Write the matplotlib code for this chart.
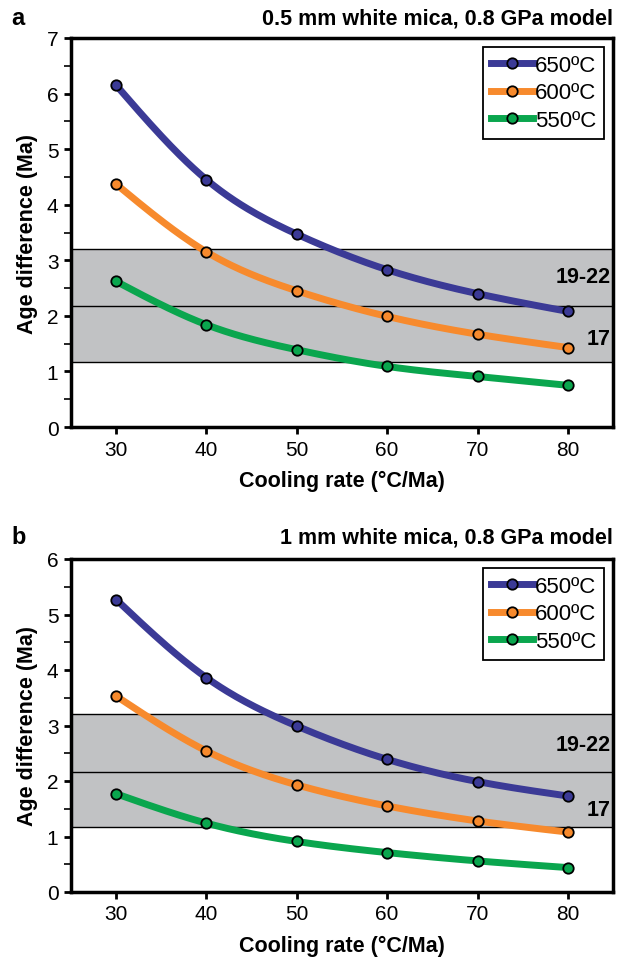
import numpy as np
import matplotlib
matplotlib.use("Agg")
import matplotlib.pyplot as plt

plt.rcParams['font.family'] = ['Liberation Sans', 'DejaVu Sans']

rates = [30, 40, 50, 60, 70, 80]
labels = ["650ºC", "600ºC", "550ºC"]
colors = ["#3b3a96", "#f78a2d", "#0aa64e"]

a_650 = [6.15, 4.45, 3.47, 2.83, 2.40, 2.08]
a_600 = [4.37, 3.15, 2.45, 1.99, 1.67, 1.43]
a_550 = [2.62, 1.84, 1.39, 1.09, 0.91, 0.75]

b_650 = [5.27, 3.86, 2.99, 2.39, 1.99, 1.73]
b_600 = [3.53, 2.54, 1.93, 1.55, 1.28, 1.08]
b_550 = [1.77, 1.24, 0.91, 0.71, 0.56, 0.44]

band_lines = [1.17, 2.17, 3.21]
band_labels = ["19-22", "17"]
titles = ["0.5 mm white mica, 0.8 GPa model", "1 mm white mica, 0.8 GPa model"]
letters = ["a", "b"]
ymaxes = [7, 6]


def natural_spline(x, y, n=200):
    x = np.asarray(x, float); y = np.asarray(y, float)
    k = len(x); h = np.diff(x)
    A = np.zeros((k, k)); r = np.zeros(k)
    A[0, 0] = 1; A[-1, -1] = 1
    for i in range(1, k - 1):
        A[i, i - 1] = h[i - 1]; A[i, i] = 2 * (h[i - 1] + h[i]); A[i, i + 1] = h[i]
        r[i] = 3 * ((y[i + 1] - y[i]) / h[i] - (y[i] - y[i - 1]) / h[i - 1])
    c = np.linalg.solve(A, r)
    xs = np.linspace(x[0], x[-1], n)
    ys = np.empty_like(xs)
    for j, xv in enumerate(xs):
        i = min(np.searchsorted(x, xv, side='right') - 1, k - 2)
        dx = xv - x[i]
        b = (y[i + 1] - y[i]) / h[i] - h[i] * (2 * c[i] + c[i + 1]) / 3
        d = (c[i + 1] - c[i]) / (3 * h[i])
        ys[j] = y[i] + b * dx + c[i] * dx ** 2 + d * dx ** 3
    return xs, ys


fig = plt.figure(figsize=(6.19, 9.62), dpi=100)
axa = fig.add_axes([71 / 619, 1 - 428 / 962, 542 / 619, 389 / 962])
axb = fig.add_axes([71 / 619, 1 - 893 / 962, 542 / 619, 333 / 962])

panels = [(axa, [a_650, a_600, a_550], (2.70, 1.60), 9),
          (axb, [b_650, b_600, b_550], (2.65, 1.48), 11)]

for idx, (ax, series, lab_y, toff) in enumerate(panels):
    ax.axhspan(band_lines[0], band_lines[2], color="#c1c2c4", zorder=0, lw=0)
    for yv in band_lines:
        ax.axhline(yv, color="black", lw=1.0, zorder=1)
    for vals, lab, col in zip(series, labels, colors):
        xs, ys = natural_spline(rates, vals)
        ax.plot(xs, ys, color=col, lw=5, solid_capstyle='butt', zorder=2)
        ax.plot(rates, vals, 'o', color=col, mec='black', mew=1.3, ms=7.5, zorder=3)
        ax.plot([], [], '-o', color=col, lw=5, mfc=col, mec='black', mew=1.3, ms=7.5, label=lab)
    ax.text(84.75, lab_y[0], band_labels[0], ha='right', va='center', fontsize=15.5, fontweight='bold', zorder=4)
    ax.text(84.75, lab_y[1], band_labels[1], ha='right', va='center', fontsize=15.5, fontweight='bold', zorder=4)
    ax.set_xlim(25, 85)
    ax.set_ylim(0, ymaxes[idx])
    ax.set_xticks(rates)
    ax.set_yticks(range(0, ymaxes[idx] + 1))
    ax.set_yticks(np.arange(0.5, ymaxes[idx], 1.0), minor=True)
    ax.tick_params(axis='both', which='major', direction='out', length=5, width=2, labelsize=15, pad=4)
    ax.tick_params(axis='y', which='minor', direction='out', length=5, width=1.2)
    for s in ax.spines.values():
        s.set_linewidth(2.5)
    ax.set_xlabel("Cooling rate (°C/Ma)", fontsize=15.5, fontweight='bold', labelpad=8)
    ax.set_ylabel("Age difference (Ma)", fontsize=15.5, fontweight='bold', labelpad=6)
    leg = ax.legend(loc='upper right', fontsize=16, frameon=True, fancybox=False,
                    edgecolor='black', framealpha=1, handlelength=1.9, handletextpad=0.1,
                    labelspacing=0.3, borderpad=0.35, borderaxespad=0.4)
    leg.get_frame().set_linewidth(1.3)
    ax.annotate(titles[idx], xy=(1.0, 1.0), xycoords='axes fraction',
                xytext=(0, toff), textcoords='offset pixels', ha='right', va='bottom',
                fontsize=15.5, fontweight='bold')
    ax.annotate(letters[idx], xy=(0.0, 1.0), xycoords='axes fraction',
                xytext=(-60, toff), textcoords='offset pixels', ha='left', va='bottom',
                fontsize=17, fontweight='bold')

fig.savefig("out.png", dpi=100)
